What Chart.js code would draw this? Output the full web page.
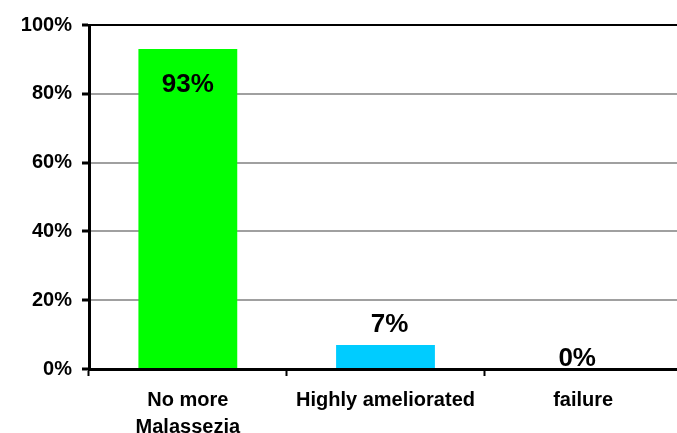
<!DOCTYPE html>
<html lang="en">
<head>
  <meta charset="UTF-8">
  <title>Malassezia results</title>
  <script src="https://cdn.jsdelivr.net/npm/chart.js"></script>
  <style>
    html, body { margin: 0; padding: 0; overflow: hidden; background: #fff; }
    canvas { display: block; }
  </style>
</head>
<body>

  <canvas id="myChart" width="682" height="433"></canvas>

  <script>
    const categories = [['No more', 'Malassezia'], 'Highly ameliorated', 'failure'];
    const percents = [93, 7, 0];
    const yTicks = [0, 20, 40, 60, 80, 100];
    const barColors = ['#00ff00', '#00ccff', '#ff00ff'];

    // draws the % values over the bars (no datalabels plugin here)
    const valueLabels = {
      id: 'valueLabels',
      afterDatasetsDraw(chart, args, opts) {
        const ctx = chart.ctx;
        const meta = chart.getDatasetMeta(0);
        ctx.save();
        ctx.font = 'bold 26px "Liberation Sans", Arial, sans-serif';
        ctx.fillStyle = '#000';
        ctx.textAlign = 'center';
        ctx.textBaseline = 'middle';
        meta.data.forEach((bar, i) => {
          ctx.fillText(percents[i] + '%', bar.x + opts.dx[i], bar.y + opts.dy[i]);
        });
        ctx.restore();
      }
    };

    const config = {
      type: 'bar',
      data: {
        labels: categories,
        datasets: [{
          data: percents,
          backgroundColor: barColors,
          borderWidth: 0,
          barPercentage: 0.5,
          categoryPercentage: 1
        }]
      },
      options: {
        responsive: false,
        animation: false,
        layout: { padding: { top: 25, right: 0, left: 0, bottom: 0 } },
        plugins: {
          legend: { display: false },
          tooltip: { enabled: false },
          valueLabels: { dx: [0, 4, -6], dy: [36, -20, -10] }
        },
        scales: {
          x: {
            offset: true,
            afterFit: s => { s.height = 64; },
            border: { color: '#000', width: 3 },
            grid: {
              offset: true,
              drawOnChartArea: false,
              tickColor: '#000',
              tickLength: 7,
              tickWidth: 2
            },
            ticks: {
              color: '#000',
              padding: 11,
              maxRotation: 0,
              font: { family: '"Liberation Sans", Arial, sans-serif', size: 20, weight: 'bold', lineHeight: 1.35 }
            }
          },
          y: {
            min: 0,
            max: 100,
            afterFit: s => { s.width = 89; },
            afterBuildTicks: s => { s.ticks = yTicks.map(v => ({ value: v })); },
            border: { color: '#000', width: 3 },
            grid: {
              color: c => (c.tick && c.tick.value === 100 ? '#000' : '#a0a0a0'),
              lineWidth: 2,
              tickColor: '#000',
              tickLength: 7,
              tickWidth: 3
            },
            ticks: {
              color: '#000',
              padding: 10,
              callback: v => v + '%',
              font: { family: '"Liberation Sans", Arial, sans-serif', size: 20, weight: 'bold' }
            }
          }
        }
      },
      plugins: [valueLabels]
    };

    const ctx = document.getElementById('myChart').getContext('2d');
    const myChart = new Chart(ctx, config);
  </script>

</body>
</html>
